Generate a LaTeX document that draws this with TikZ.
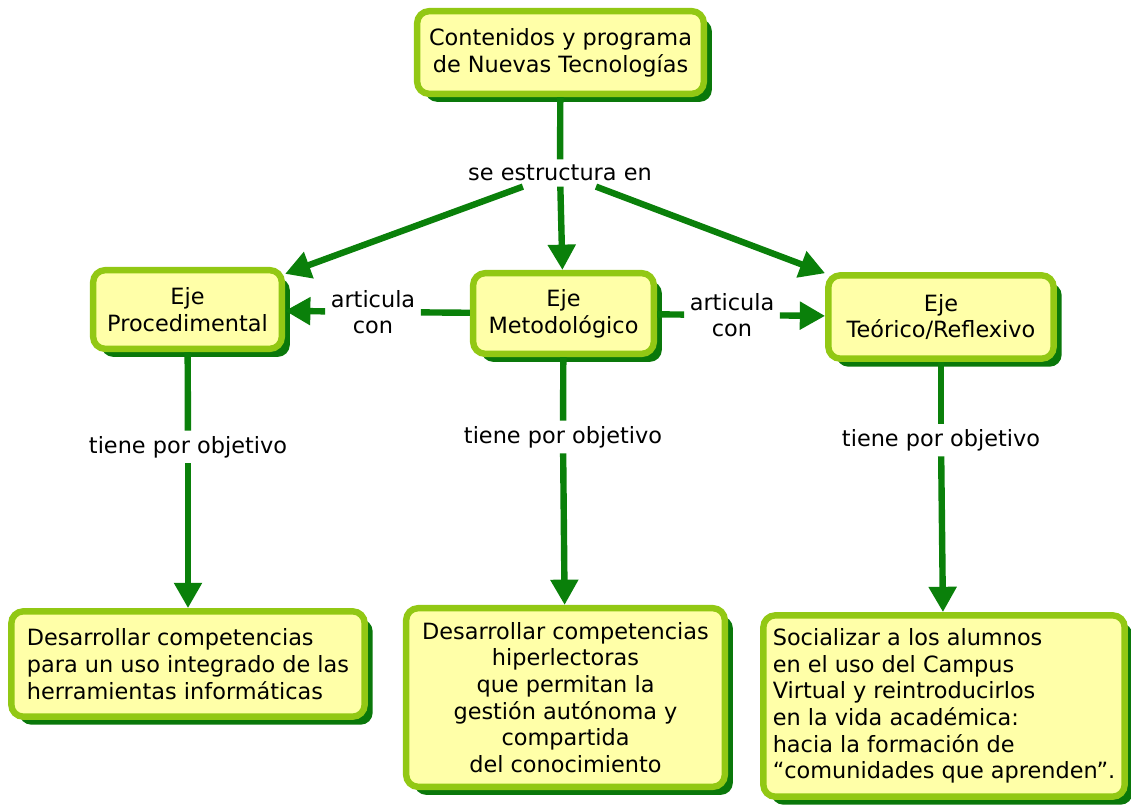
\documentclass[tikz,border=0pt]{standalone}
\usepackage{fontspec}
\setmainfont{DejaVu Sans}
\usetikzlibrary{arrows.meta,shadows}
\definecolor{mapfill}{RGB}{255,255,168}
\definecolor{mapborder}{RGB}{146,200,20}
\definecolor{mapshadow}{RGB}{10,120,10}
\definecolor{mapline}{RGB}{10,128,10}

\begin{document}
\begin{tikzpicture}
    [ x=.75pt, y=-.75pt,
      font=\fontsize{16.8}{20}\selectfont,
      concept/.style={draw=mapborder, line width=4.8pt, fill=mapfill,
          rounded corners=9pt, align=center, inner sep=0pt,
          drop shadow={shadow xshift=6pt, shadow yshift=-6pt,
                       fill=mapshadow, opacity=1}},
      linkword/.style={align=center, inner sep=4pt},
      conn/.style={draw=mapline, line width=4.8pt},
      arr/.style={conn, -{Triangle[length=19pt,width=20pt]}},
    ]
    \useasboundingbox (0,0) rectangle (1131,807);

    \node[concept, minimum width=215pt, minimum height=62pt] (prog)
        at (560.5,52.5) {Contenidos y programa\\de Nuevas Tecnologías};
    \node[linkword] (estr) at (560,173) {se estructura en};

    \node[concept, minimum width=141.5pt, minimum height=59pt] (proc)
        at (187.5,309.5) {Eje\\Procedimental};
    \node[concept, minimum width=135.5pt, minimum height=60.5pt] (met)
        at (563.5,313.5) {Eje\\Metodológico};
    \node[concept, minimum width=169pt, minimum height=62.5pt] (teo)
        at (941,317) {Eje\\Teórico/Reflexivo};

    \node[linkword] (art1) at (373,312) {articula\\con};
    \node[linkword] (art2) at (732,315) {articula\\con};

    \node[linkword] (obj1) at (188,447) {tiene por objetivo};
    \node[linkword] (obj2) at (563,437) {tiene por objetivo};
    \node[linkword] (obj3) at (941,440) {tiene por objetivo};

    \node[concept, align=left, minimum width=265pt, minimum height=79pt] (des1)
        at (188,664) {Desarrollar competencias\\para un uso integrado de las\\herramientas informáticas};
    \node[concept, minimum width=239pt, minimum height=134pt] (des2)
        at (565.5,697.5) {Desarrollar competencias\\hiperlectoras\\que permitan la\\gestión autónoma y\\compartida\\del conocimiento};
    \node[concept, align=left, minimum width=271pt, minimum height=136pt] (soc)
        at (944,706) {Socializar a los alumnos\\en el uso del Campus\\Virtual y reintroducirlos\\en la vida académica:\\hacia la formación de\\“comunidades que aprenden”.};

    % se estructura en
    \draw[conn] (prog) -- (estr);
    \foreach \eje in {proc, met, teo}
        \draw[arr] (estr) -- (\eje);

    % articula con
    \draw[conn] (met) -- (art1);
    \draw[arr] (art1) -- (proc);
    \draw[conn] (met) -- (art2);
    \draw[arr] (art2) -- (teo);

    % tiene por objetivo
    \foreach \eje/\obj/\meta in {proc/obj1/des1, met/obj2/des2, teo/obj3/soc} {
        \draw[conn] (\eje) -- (\obj);
        \draw[arr] (\obj) -- (\meta);
    }
\end{tikzpicture}
\end{document}
